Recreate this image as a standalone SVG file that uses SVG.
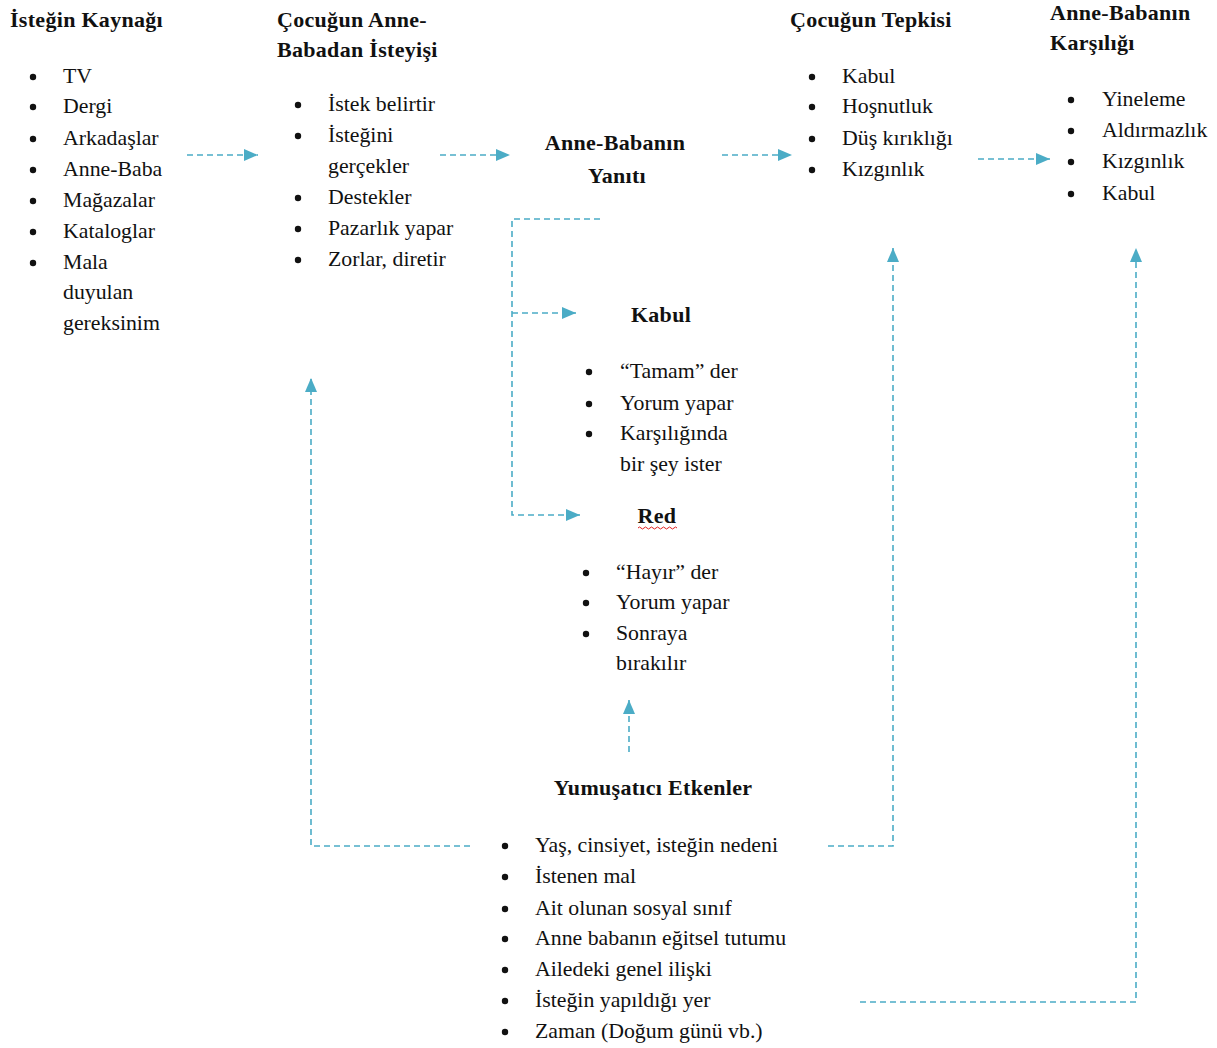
<svg xmlns="http://www.w3.org/2000/svg" width="1217" height="1048" viewBox="0 0 1217 1048">
<style>
text{font-family:"Liberation Serif","Times New Roman",serif;fill:#111;}
.h{font-size:22px;font-weight:bold;letter-spacing:0.3px;}
.t{font-size:21.8px;}
.d{fill:#111;}
.c{stroke:#4BACC6;stroke-width:1.6;fill:none;stroke-dasharray:6 4;}
</style>
<defs>
<marker id="ah" viewBox="0 0 14 12" refX="14" refY="6" markerWidth="14" markerHeight="12" markerUnits="userSpaceOnUse" orient="auto">
<path d="M0,0 L14,6 L0,12 Z" fill="#4BACC6"/>
</marker>
<circle id="bu" r="3.2" class="d"/>
</defs>
<rect width="1217" height="1048" fill="#fff"/>
<g id="connectors">
<path class="c" d="M187,155 H258" marker-end="url(#ah)"/>
<path class="c" d="M440,155 H510" marker-end="url(#ah)"/>
<path class="c" d="M722,155 H792" marker-end="url(#ah)"/>
<path class="c" d="M978,159 H1050" marker-end="url(#ah)"/>
<path class="c" d="M600,219 H512 V515 H580" marker-end="url(#ah)"/>
<path class="c" d="M512,313 H576" marker-end="url(#ah)"/>
<path class="c" d="M629,752 V700" marker-end="url(#ah)"/>
<path class="c" d="M470,846 H311 V378" marker-end="url(#ah)"/>
<path class="c" d="M828,846 H893 V248" marker-end="url(#ah)"/>
<path class="c" d="M860,1002 H1136 V248" marker-end="url(#ah)"/>
</g>
<g id="node-kaynak">
<text class="h" x="10" y="27">İsteğin Kaynağı</text>
<use href="#bu" x="33" y="77"/><use href="#bu" x="33" y="107"/><use href="#bu" x="33" y="139"/><use href="#bu" x="33" y="170"/><use href="#bu" x="33" y="201"/><use href="#bu" x="33" y="232"/><use href="#bu" x="33" y="263"/>
<text class="t" x="63" y="83">TV</text>
<text class="t" x="63" y="113">Dergi</text>
<text class="t" x="63" y="145">Arkadaşlar</text>
<text class="t" x="63" y="176">Anne-Baba</text>
<text class="t" x="63" y="207">Mağazalar</text>
<text class="t" x="63" y="238">Kataloglar</text>
<text class="t" x="63" y="269">Mala</text>
<text class="t" x="63" y="299">duyulan</text>
<text class="t" x="63" y="330">gereksinim</text>
</g>
<g id="node-isteyis">
<text class="h" x="277" y="27">Çocuğun Anne-</text>
<text class="h" x="277" y="57">Babadan İsteyişi</text>
<use href="#bu" x="298" y="105"/><use href="#bu" x="298" y="136"/><use href="#bu" x="298" y="198"/><use href="#bu" x="298" y="229"/><use href="#bu" x="298" y="260"/>
<text class="t" x="328" y="111">İstek belirtir</text>
<text class="t" x="328" y="142">İsteğini</text>
<text class="t" x="328" y="173">gerçekler</text>
<text class="t" x="328" y="204">Destekler</text>
<text class="t" x="328" y="235">Pazarlık yapar</text>
<text class="t" x="328" y="266">Zorlar, diretir</text>
</g>
<g id="node-yanit">
<text class="h" x="615" y="150" text-anchor="middle" letter-spacing="1">Anne-Babanın</text>
<text class="h" x="617" y="183" text-anchor="middle" letter-spacing="1">Yanıtı</text>
</g>
<g id="node-tepki">
<text class="h" x="790" y="27">Çocuğun Tepkisi</text>
<use href="#bu" x="812" y="77"/><use href="#bu" x="812" y="107"/><use href="#bu" x="812" y="139"/><use href="#bu" x="812" y="170"/>
<text class="t" x="842" y="83">Kabul</text>
<text class="t" x="842" y="113">Hoşnutluk</text>
<text class="t" x="842" y="145">Düş kırıklığı</text>
<text class="t" x="842" y="176">Kızgınlık</text>
</g>
<g id="node-karsilik">
<text class="h" x="1050" y="20">Anne-Babanın</text>
<text class="h" x="1050" y="50">Karşılığı</text>
<use href="#bu" x="1071" y="100"/><use href="#bu" x="1071" y="131"/><use href="#bu" x="1071" y="162"/><use href="#bu" x="1071" y="194"/>
<text class="t" x="1102" y="106">Yineleme</text>
<text class="t" x="1102" y="137">Aldırmazlık</text>
<text class="t" x="1102" y="168">Kızgınlık</text>
<text class="t" x="1102" y="200">Kabul</text>
</g>
<g id="node-kabul">
<text class="h" x="661" y="322" text-anchor="middle" letter-spacing="1">Kabul</text>
<use href="#bu" x="589" y="372"/><use href="#bu" x="589" y="404"/><use href="#bu" x="589" y="434"/>
<text class="t" x="620" y="378">“Tamam” der</text>
<text class="t" x="620" y="410">Yorum yapar</text>
<text class="t" x="620" y="440">Karşılığında</text>
<text class="t" x="620" y="471">bir şey ister</text>
</g>
<g id="node-red">
<text class="h" x="657" y="523" text-anchor="middle">Red</text>
<path d="M638,528 q1.5,-2 3,0 t3,0 t3,0 t3,0 t3,0 t3,0 t3,0 t3,0 t3,0 t3,0 t3,0 t3,0 t3,0" stroke="#e02020" stroke-width="1" fill="none"/>
<use href="#bu" x="586" y="573"/><use href="#bu" x="586" y="603"/><use href="#bu" x="586" y="634"/>
<text class="t" x="616" y="579">“Hayır” der</text>
<text class="t" x="616" y="609">Yorum yapar</text>
<text class="t" x="616" y="640">Sonraya</text>
<text class="t" x="616" y="670">bırakılır</text>
</g>
<g id="node-etkenler">
<text class="h" x="653" y="795" text-anchor="middle" letter-spacing="0.8">Yumuşatıcı Etkenler</text>
<use href="#bu" x="505" y="846"/><use href="#bu" x="505" y="877"/><use href="#bu" x="505" y="909"/><use href="#bu" x="505" y="939"/><use href="#bu" x="505" y="970"/><use href="#bu" x="505" y="1001"/><use href="#bu" x="505" y="1032"/>
<text class="t" x="535" y="852">Yaş, cinsiyet, isteğin nedeni</text>
<text class="t" x="535" y="883">İstenen mal</text>
<text class="t" x="535" y="915">Ait olunan sosyal sınıf</text>
<text class="t" x="535" y="945">Anne babanın eğitsel tutumu</text>
<text class="t" x="535" y="976">Ailedeki genel ilişki</text>
<text class="t" x="535" y="1007">İsteğin yapıldığı yer</text>
<text class="t" x="535" y="1038">Zaman (Doğum günü vb.)</text>
</g>
</svg>
